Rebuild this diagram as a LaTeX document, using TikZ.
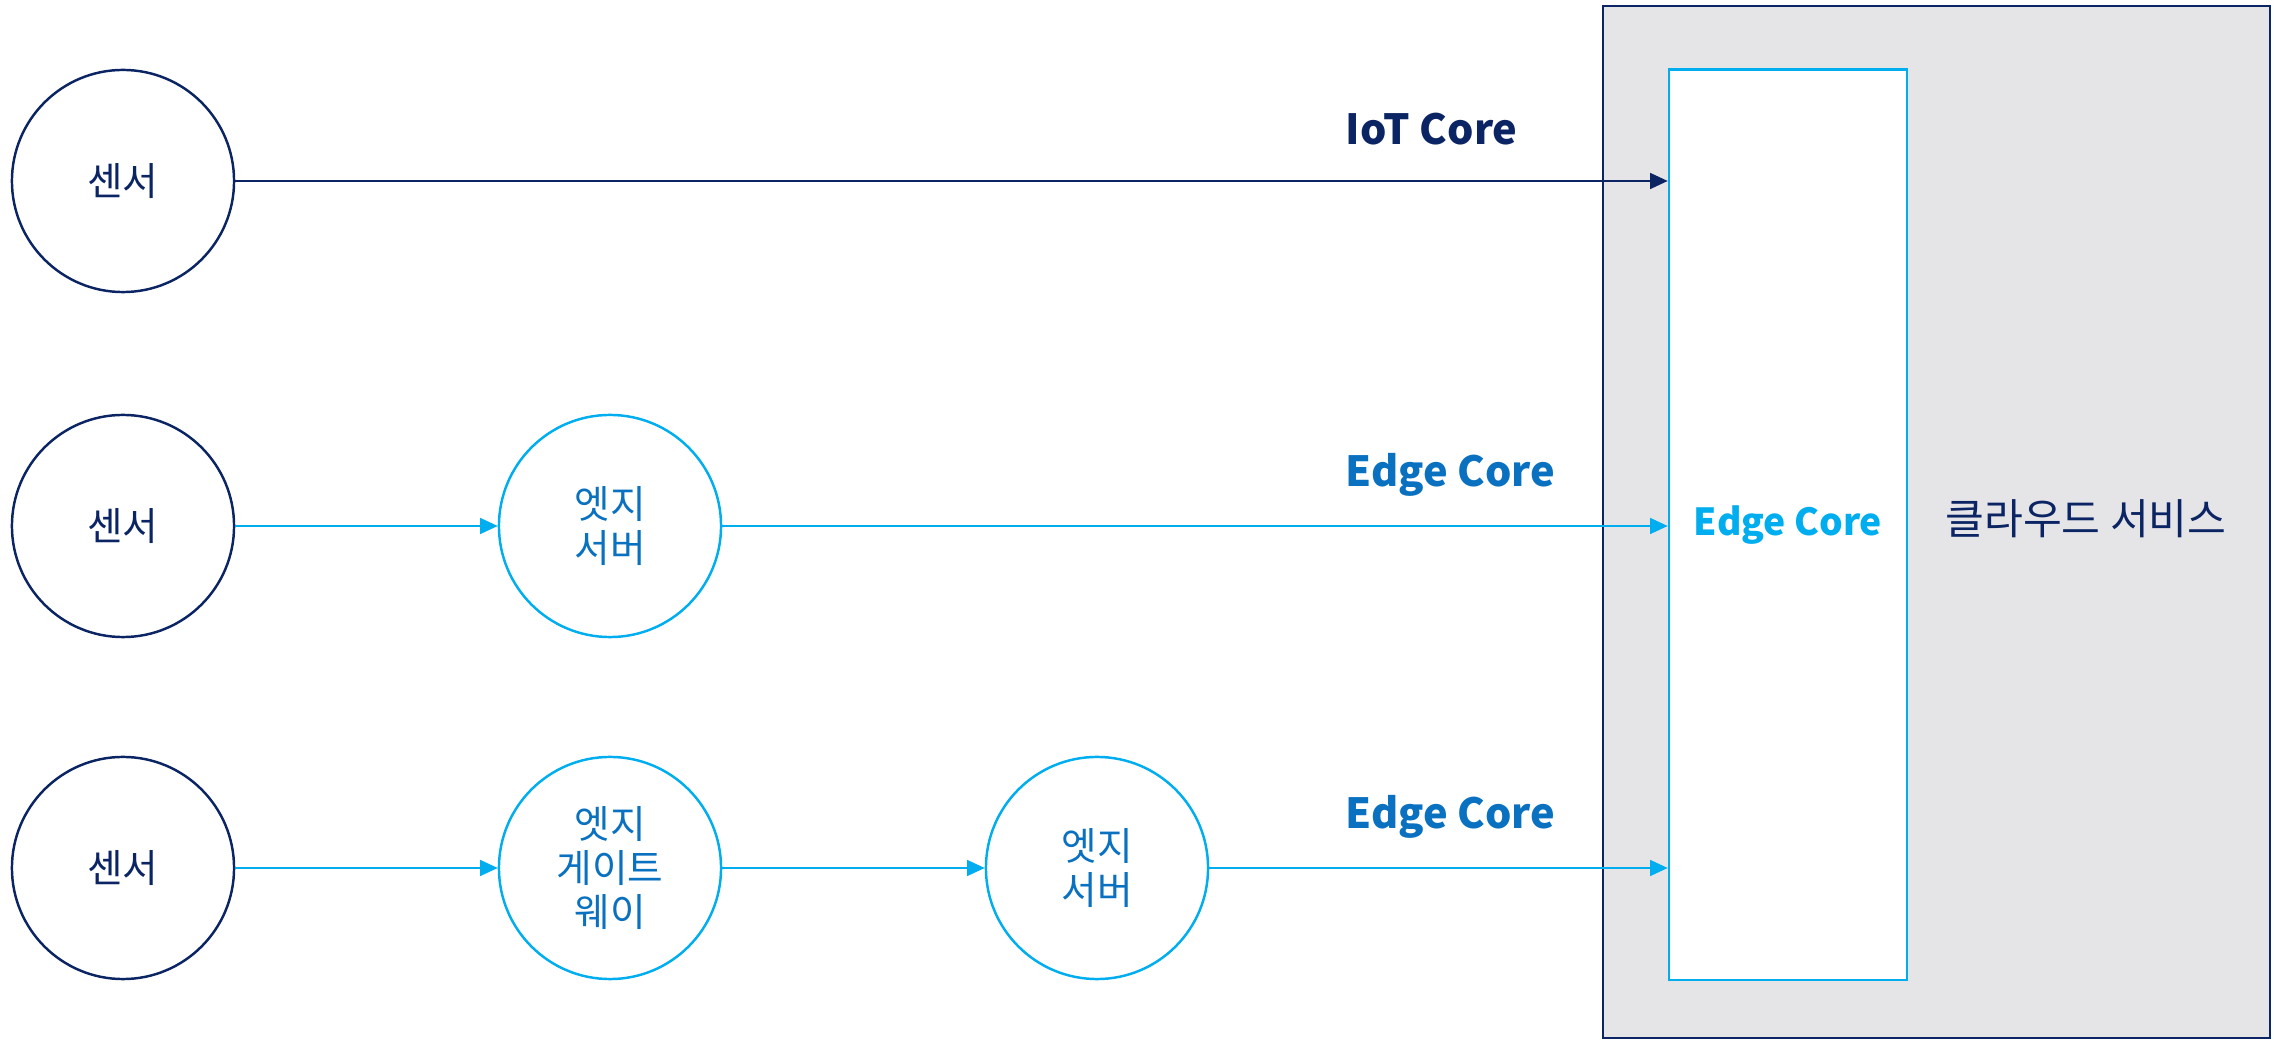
\documentclass[tikz,border=0pt]{standalone}
\usepackage{fontspec}
\setmainfont{Noto Sans CJK KR}
\usetikzlibrary{arrows.meta}
\definecolor{navy}{HTML}{0B2463}
\definecolor{sky}{HTML}{00AEEF}
\definecolor{mid}{HTML}{0A70C0}
\definecolor{cloudgray}{HTML}{E5E5E7}

\begin{document}
\begin{tikzpicture}[x=0.01cm, y=-0.01cm,
    dev/.style={circle, draw=navy, line width=0.7pt, minimum size=2.22cm, inner sep=0pt,
        text=navy, font=\fontsize{11}{12.6}\selectfont, align=center},
    edge/.style={dev, draw=sky, text=mid},
    corelabel/.style={font=\bfseries\fontsize{11.8}{14}\selectfont, anchor=west, inner sep=0pt},
    navyarrow/.style={draw=navy, line width=0.6pt, -{Triangle[length=5pt, width=4.5pt]}},
    skyarrow/.style={draw=sky, line width=0.6pt, -{Triangle[length=5pt, width=4.5pt]}}]
    \useasboundingbox (0,0) rectangle (2277,1040);

    % Cloud
    \draw[navy, line width=0.7pt, fill=cloudgray] (1603,6) rectangle (2270,1038);
    \node[draw=sky, line width=0.7pt, fill=white, minimum width=2.38cm, minimum height=9.1cm,
        inner sep=0pt, text=sky, font=\bfseries\fontsize{10.6}{13}\selectfont]
        (core) at (1788,525) {Edge Core};
    \node[text=navy, font=\fontsize{12}{15}\selectfont] (cloud) at (2086,519) {클라우드 서비스};

    % Devices
    \node[dev] (s1) at (123,181) {센서};
    \node[dev] (s2) at (123,526) {센서};
    \node[dev] (s3) at (123,868) {센서};
    \node[edge] (es2) at (610,526) {엣지\\서버};
    \node[edge] (gw3) at (610,868) {엣지\\게이트\\웨이};
    \node[edge] (es3) at (1097,868) {엣지\\서버};

    % Links
    \draw[navyarrow] (s1) -- (s1 -| core.west);
    \draw[skyarrow] (s2) -- (es2);
    \draw[skyarrow] (es2) -- (es2 -| core.west);
    \draw[skyarrow] (s3) -- (gw3);
    \draw[skyarrow] (gw3) -- (es3);
    \draw[skyarrow] (es3) -- (es3 -| core.west);

    % Labels
    \node[corelabel, text=navy] (lbl1) at (1345,129) {IoT Core};
    \node[corelabel, text=mid] (lbl2) at (1345,475) {Edge Core};
    \node[corelabel, text=mid] (lbl3) at (1345,817) {Edge Core};
\end{tikzpicture}
\end{document}
